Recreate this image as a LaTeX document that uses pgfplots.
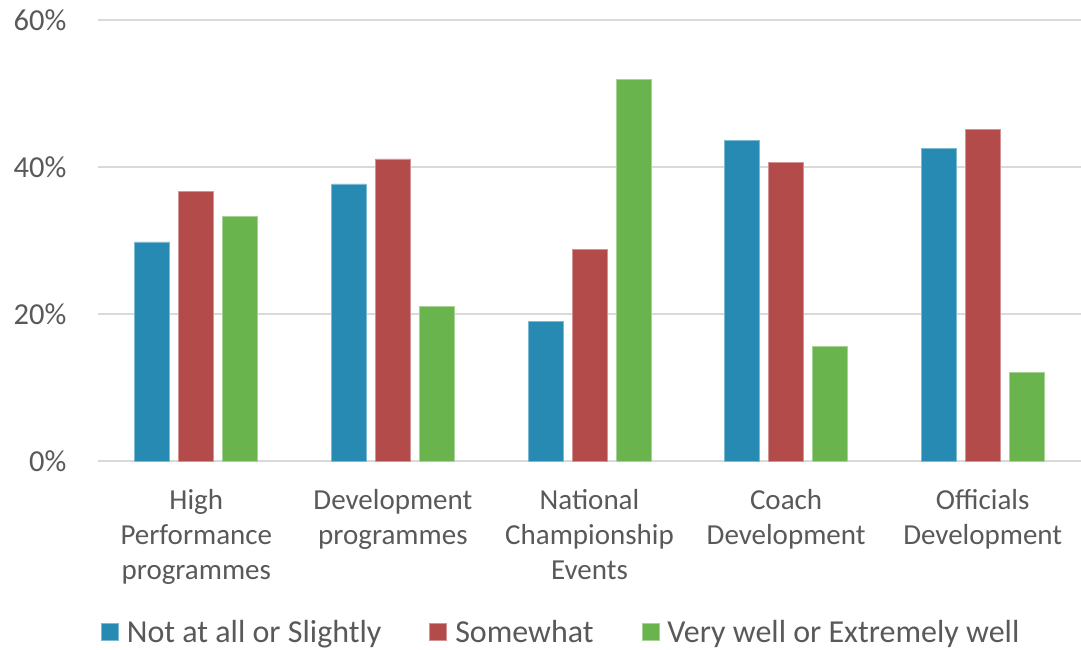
\documentclass[border=0pt]{standalone}
\usepackage{pgfplots}
\pgfplotsset{compat=1.18}
\usepackage{fontspec}
\setmainfont{Carlito}
\definecolor{cblue}{HTML}{268AB2}
\definecolor{cred}{HTML}{B44B4B}
\definecolor{cgreen}{HTML}{6AB44E}
\definecolor{ctext}{HTML}{595959}
\definecolor{cgrid}{HTML}{D9D9D9}
\begin{document}
\begin{tikzpicture}
\path[use as bounding box] (-98pt,-189pt) rectangle (983pt,461pt);
\begin{axis}[
  at={(0,0)}, anchor=south west,
  scale only axis, width=983pt, height=441pt,
  xmin=-0.5, xmax=4.5, ymin=0, ymax=60,
  axis line style={draw=none},
  ybar=9pt, bar width=35pt,
  xtick={0,1,2,3,4},
  xticklabels={High\\Performance\\programmes, Development\\programmes, National\\Championship\\Events, Coach\\Development, Officials\\Development},
  ytick={0,20,40,60},
  yticklabel={\pgfmathprintnumber{\tick}\%},
  /pgf/number format/assume math mode=true,
  major tick length=0pt,
  ymajorgrids, grid style={cgrid, line width=1.3pt},
  tick label style={font=\fontsize{29}{35}\selectfont, text=ctext},
  x tick label style={align=center, anchor=north, yshift=-25pt},
  yticklabel style={anchor=east, xshift=-28pt, font=\fontsize{30.5}{35}\selectfont},
  legend style={at={(0.003,-0.388)}, anchor=west, draw=none, fill=none, inner sep=0pt,
    font=\fontsize{32}{38}\selectfont, text=ctext, legend columns=3,
    /tikz/every odd column/.append style={column sep=6pt},
    /tikz/every even column/.append style={column sep=46pt}},
  legend image code/.code={\fill[#1] (0pt,-8.5pt) rectangle (17pt,8.5pt);},
]
\addplot[fill=cblue, draw=cblue!60!white, line width=0.8pt] coordinates {(0,29.8) (1,37.7) (2,19.0) (3,43.6) (4,42.5)};
\addplot[fill=cred, draw=cred!60!white, line width=0.8pt] coordinates {(0,36.7) (1,41.1) (2,28.8) (3,40.6) (4,45.1)};
\addplot[fill=cgreen, draw=cgreen!60!white, line width=0.8pt] coordinates {(0,33.3) (1,21.0) (2,51.9) (3,15.6) (4,12.1)};
\legend{Not at all or Slightly, Somewhat, Very well or Extremely well}
\end{axis}
\end{tikzpicture}
\end{document}
